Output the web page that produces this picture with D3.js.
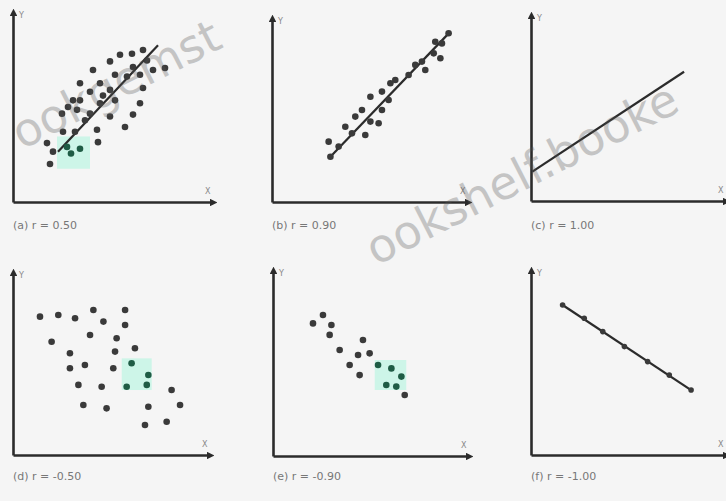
<!DOCTYPE html>
<html>
<head>
<meta charset="utf-8">
<script src="https://cdn.jsdelivr.net/npm/d3@7"></script>
<style>
  body { margin: 0; background: #f5f5f5; }
  svg { display: block; }
</style>
</head>
<body>
<div id="myChart"></div>
<script>
// panel captions
const labels = ["(a) r = 0.50", "(b) r = 0.90", "(c) r = 1.00",
                "(d) r = -0.50", "(e) r = -0.90", "(f) r = -1.00"];

// scatter points per panel, [x, y] on a 0..10 scale
const pointsA = [[1.7,3.1],[1.85,2.0],[2.0,2.65],[2.45,4.65],[3.0,5.35],[3.2,4.85],[3.6,4.3],[3.85,4.65],
  [4.35,5.2],[4.2,3.8],[4.25,3.15],[4.85,4.5],[5.1,5.35],[5.6,3.95],[6.0,4.6],[6.35,5.2],[6.5,6.0],
  [6.35,6.7],[7.0,6.95],[7.6,7.05],[6.7,7.45],[6.0,7.1],[5.7,6.6],[5.1,6.7],[4.85,5.9],[4.35,6.25],
  [3.85,5.8],[3.35,6.25],[3.35,5.35],[2.75,5.0],[4.0,6.95],[4.85,7.4],[5.35,7.75],[5.95,7.8],[6.5,8.0],
  [4.5,5.6],[3.1,3.7],[2.5,3.7]];
const pointsB = [[2.98,2.46],[2.89,3.28],[3.4,3.01],[3.74,4.09],[4.25,4.64],[4.08,3.73],[4.76,3.64],
  [5.02,4.37],[4.59,5.0],[5.02,5.72],[5.61,6.0],[5.95,5.54],[5.61,5.0],[5.44,4.28],[6.29,6.63],[6.04,6.45],
  [6.97,6.9],[7.31,7.45],[7.82,7.17],[7.65,7.63],[8.25,8.08],[8.67,8.62],[8.59,7.81],[9.01,9.17],[8.33,8.71]];
const pointsC = [];
const pointsD = [[1.37,7.56],[2.3,7.65],[3.15,7.47],[4.08,7.92],[5.69,7.92],[4.59,7.29],[5.69,7.1],
  [3.91,6.56],[5.26,6.38],[1.96,6.19],[2.89,5.56],[3.65,4.92],[5.18,5.65],[6.19,5.83],[2.89,4.74],
  [5.09,4.74],[3.32,3.83],[4.5,3.73],[8.05,3.55],[8.48,2.73],[3.57,2.73],[4.75,2.55],[6.87,2.64],
  [7.8,1.82],[6.7,1.64]];
const pointsE = [[2.55,7.58],[2.04,7.13],[2.98,7.04],[2.89,6.51],[4.59,6.24],[3.4,5.7],[4.34,5.43],
  [4.93,5.52],[3.91,4.89],[4.42,4.35],[6.72,3.28]];
const pointsF = [[1.62,8.11],[2.73,7.39],[3.68,6.67],[4.79,5.86],[5.98,5.05],[7.09,4.32],[8.21,3.51]];

// highlighted (teal) points and boxes
const hiA = [[2.7,2.9],[2.9,2.55],[3.35,2.8]];
const hiD = [[6.02,5.01],[6.87,4.37],[5.77,3.73],[6.79,3.83]];
const hiE = [[5.36,4.89],[6.04,4.71],[6.55,4.27],[5.78,3.82],[6.29,3.73]];
const boxA = [2.2, 1.75, 3.85, 3.45];
const boxD = [5.52, 3.55, 7.04, 5.28];
const boxE = [5.19, 3.55, 6.8, 5.16];

// trend lines
const lineA = [[2.25,2.65],[7.25,8.25]];
const lineB = [[2.98,2.46],[9.1,9.26]];
const lineC = [[0.07,1.58],[7.85,6.95]];
const lineF = [[1.62,8.11],[8.21,3.51]];

const width = 726, height = 501;

const svg = d3.select("#myChart")
  .append("svg")
    .attr("width", width)
    .attr("height", height)
    .style("font-family", "DejaVu Sans, sans-serif");

svg.append("rect").attr("width", width).attr("height", height).attr("fill", "#f5f5f5");

svg.append("defs").append("marker")
    .attr("id", "arrow")
    .attr("viewBox", "0 0 10 10")
    .attr("refX", 5).attr("refY", 5)
    .attr("markerWidth", 3).attr("markerHeight", 3)
    .attr("orient", "auto")
  .append("path")
    .attr("d", "M0,0 L10,5 L0,10 z")
    .attr("fill", "#2b2b2b");

// panel layout: origin and plot size
const panels = [
  {ox: 13,  oy: 202, w: 200, h: 190, pts: pointsA, hi: hiA, box: boxA, line: lineA, dy: 27},
  {ox: 272, oy: 202, w: 196, h: 184, pts: pointsB, hi: [], box: null, line: lineB, dy: 27},
  {ox: 531, oy: 201, w: 195, h: 186, pts: pointsC, hi: [], box: null, line: lineC, dy: 28},
  {ox: 13,  oy: 455, w: 197, h: 183, pts: pointsD, hi: hiD, box: boxD, line: null, dy: 25},
  {ox: 273, oy: 456, w: 196, h: 186, pts: pointsE, hi: hiE, box: boxE, line: null, dy: 24},
  {ox: 531, oy: 455, w: 195, h: 185, pts: pointsF, hi: [], box: null, line: lineF, dy: 25}
];

panels.forEach((p, i) => {
  const x = d3.scaleLinear().domain([0, 10]).range([p.ox, p.ox + p.w]);
  const y = d3.scaleLinear().domain([0, 10]).range([p.oy, p.oy - p.h]);
  const g = svg.append("g");

  if (p.box) {
    g.append("rect")
      .attr("x", x(p.box[0]))
      .attr("y", y(p.box[3]))
      .attr("width", x(p.box[2]) - x(p.box[0]))
      .attr("height", y(p.box[1]) - y(p.box[3]))
      .attr("fill", "#cdf5e8");
  }

  if (p.line) {
    g.append("path")
      .datum(p.line)
      .attr("d", d3.line().x(d => x(d[0])).y(d => y(d[1])))
      .attr("stroke", "#2b2b2b")
      .attr("stroke-width", 2.2)
      .attr("fill", "none");
  }

  g.selectAll("circle.pt")
    .data(p.pts)
    .join("circle")
      .attr("class", "pt")
      .attr("cx", d => x(d[0]))
      .attr("cy", d => y(d[1]))
      .attr("r", i === 5 ? 2.8 : 3.3)
      .attr("fill", "#3a3a3a");

  g.selectAll("circle.hi")
    .data(p.hi)
    .join("circle")
      .attr("class", "hi")
      .attr("cx", d => x(d[0]))
      .attr("cy", d => y(d[1]))
      .attr("r", 3.3)
      .attr("fill", "#1f5c45");

  // axes with arrow heads
  const xAxis = g.append("g")
    .attr("transform", `translate(0, ${p.oy})`)
    .call(d3.axisBottom(x).ticks(0).tickSizeOuter(0));
  const yAxis = g.append("g")
    .attr("transform", `translate(${p.ox}, 0)`)
    .call(d3.axisLeft(y).ticks(0).tickSizeOuter(0));
  [xAxis, yAxis].forEach(a => a.select(".domain")
    .attr("stroke", "#2b2b2b")
    .attr("stroke-width", 2.6)
    .attr("marker-end", "url(#arrow)"));

  g.append("text")
    .attr("x", p.ox + 6).attr("y", p.oy - p.h + 6)
    .text("Y")
    .attr("font-size", "8px")
    .attr("fill", "#888");
  g.append("text")
    .attr("x", p.ox + p.w - 8).attr("y", p.oy - 8)
    .text("X")
    .attr("font-size", "8px")
    .attr("fill", "#888");

  g.append("text")
    .attr("x", p.ox)
    .attr("y", p.oy + p.dy)
    .text(labels[i])
    .attr("font-size", "11px")
    .attr("fill", "#777");
});

// watermark fragments, as far as they show in the picture
svg.append("text")
  .attr("transform", "translate(22, 150) rotate(-27)")
  .text("ookgemst")
  .attr("font-size", "46px")
  .attr("fill", "#555")
  .attr("opacity", 0.3);

svg.append("text")
  .attr("transform", "translate(376, 266) rotate(-27)")
  .text("ookshelf.booke")
  .attr("font-size", "46px")
  .attr("fill", "#555")
  .attr("opacity", 0.3);
</script>
</body>
</html>
